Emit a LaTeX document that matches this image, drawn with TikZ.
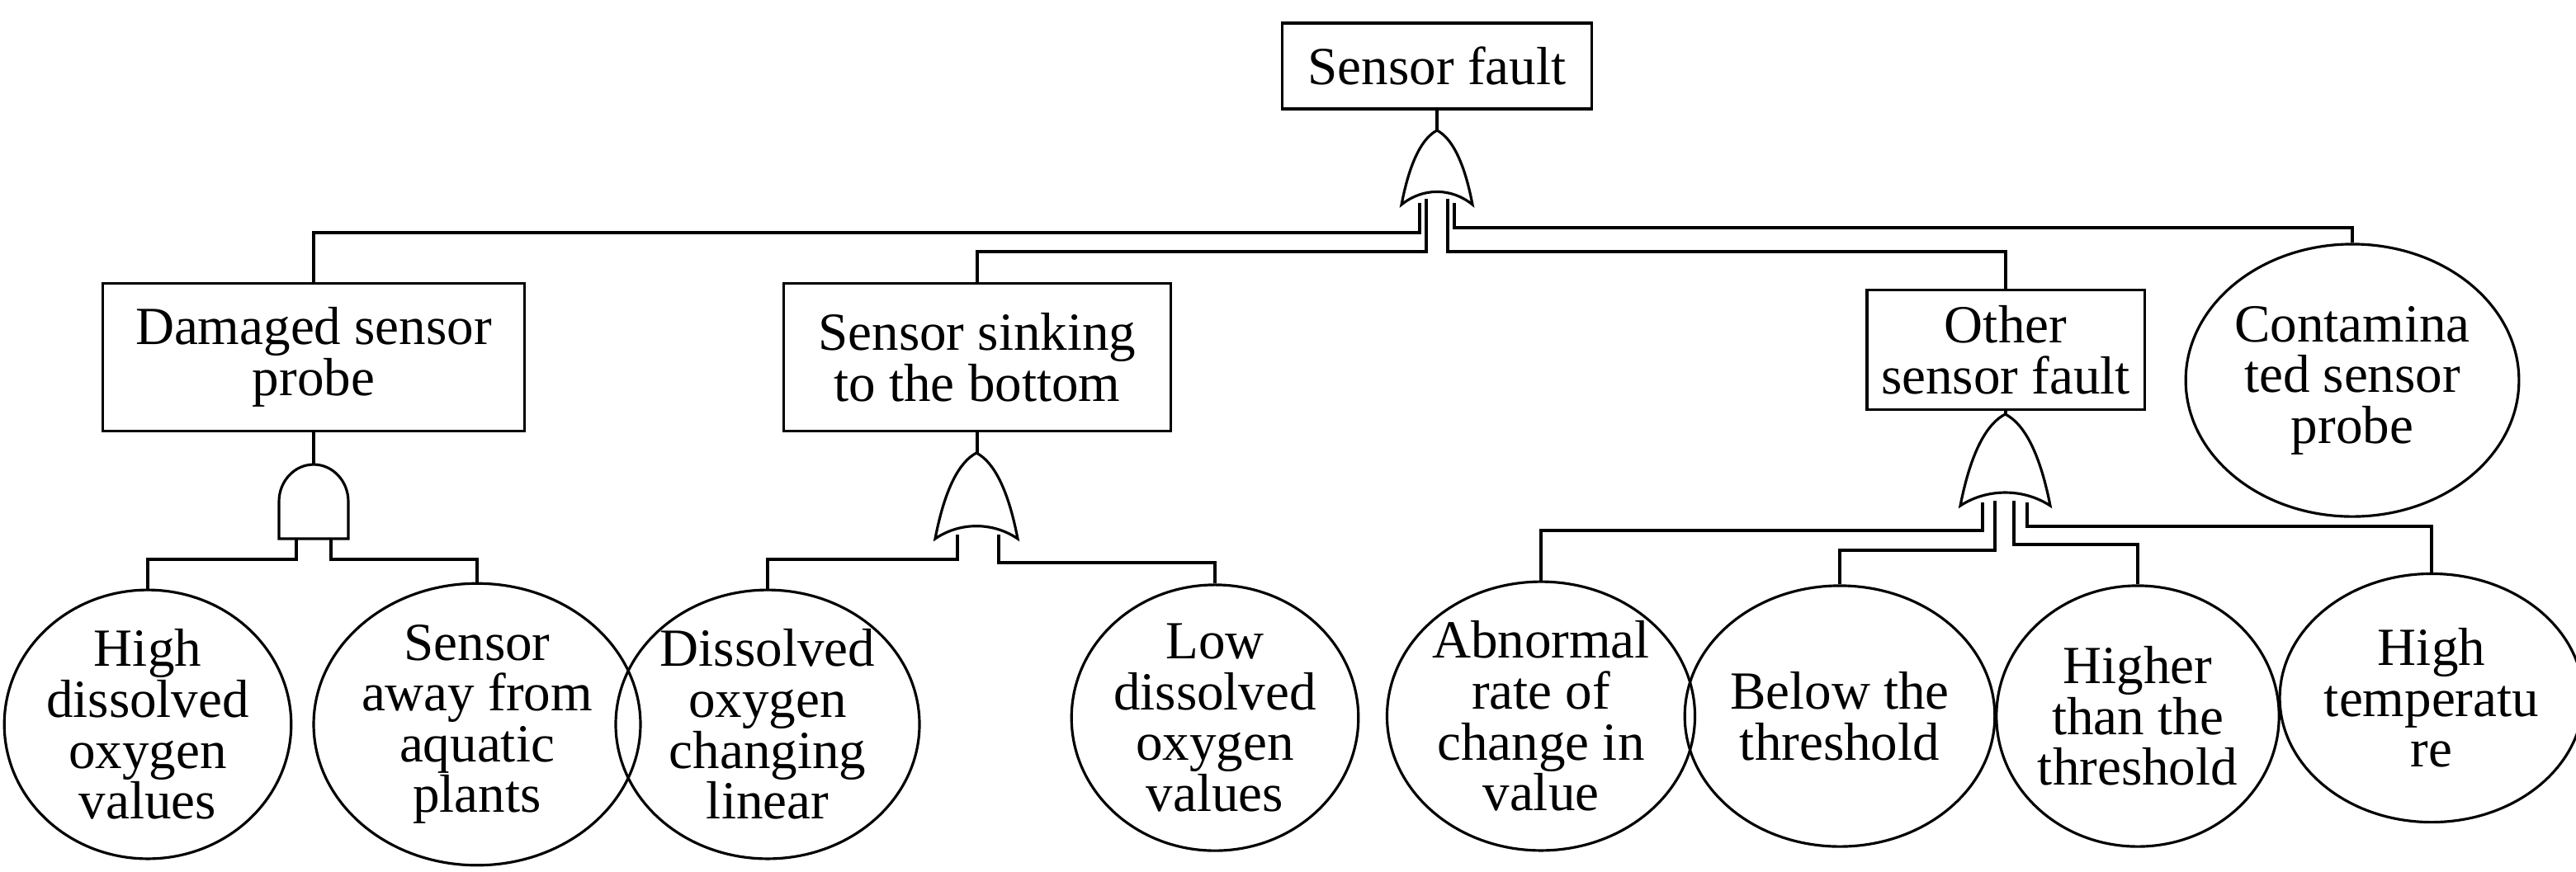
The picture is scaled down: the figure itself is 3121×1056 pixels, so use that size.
\documentclass[tikz,border=0pt]{standalone}
\usepackage{fontspec}
\setmainfont{Liberation Serif}
\usetikzlibrary{shapes.geometric}
\begin{document}
\begin{tikzpicture}[x=0.01cm,y=-0.01cm,
  every node/.style={font=\fontsize{18.5}{17.5}\selectfont, align=center, inner sep=0pt},
  box/.style={draw, line width=0.9pt, rectangle},
  ev/.style={draw, line width=0.9pt, ellipse, minimum width=3.06cm, minimum height=3.16cm},
  ln/.style={line width=0.9pt},
  gate/.style={draw, line width=0.9pt, fill=white}]
\useasboundingbox (0,0) rectangle (3121,1056);
% OR gate macro: L R apex bottom peak
\newcommand{\orgt}[5]{%
  \pgfmathsetmacro{\cx}{(#1+#2)/2}\pgfmathsetmacro{\w}{#2-#1}\pgfmathsetmacro{\h}{#4-#3}
  \draw[gate] (#1,#4) .. controls (#1+0.12*\w,#4-0.6*\h) and (\cx-0.2*\w,#3+0.1*\h) .. (\cx,#3)
   .. controls (\cx+0.2*\w,#3+0.1*\h) and (#2-0.12*\w,#4-0.6*\h) .. (#2,#4)
   .. controls (\cx+0.2*\w,#5-0.12*\h) and (\cx-0.2*\w,#5-0.12*\h) .. cycle;}
% nodes
\node[box, minimum width=3.75cm, minimum height=1.04cm] (top) at (1741,80) {Sensor fault};
\node[box, minimum width=5.10cm, minimum height=1.79cm] (dam) at (380,433) {Damaged sensor\\probe};
\node[box, minimum width=4.68cm, minimum height=1.79cm] (sink) at (1184,433) {Sensor sinking\\to the bottom};
\node[box, minimum width=3.36cm, minimum height=1.45cm] (oth) at (2430,424) {Other\\sensor fault};
\node[ev, minimum width=3.10cm, minimum height=3.30cm] (cont) at (2850,461) {Contamina\\ted sensor\\probe};
\node[ev] (c1) at (179,878) {High\\dissolved\\oxygen\\values};
\node[ev] (c2) at (578,878) {Sensor\\away from\\aquatic\\plants};
\node[ev] (c3) at (930,878) {Dissolved\\oxygen\\changing\\linear};
\node[ev] (c4) at (1472,870) {Low\\dissolved\\oxygen\\values};
\node[ev] (c5) at (1867,868) {Abnormal\\rate of\\change in\\value};
\node[ev] (c6) at (2229,868) {Below the\\threshold};
\node[ev] (c7) at (2590,868) {Higher\\than the\\threshold};
\node[ev, minimum width=2.94cm, minimum height=3.01cm] (c8) at (2946,846) {High\\temperatu\\re};
% gate outputs
\coordinate (g0) at (1741,158);
\coordinate (g1) at (380,563);
\coordinate (g2) at (1184,549);
\coordinate (g3) at (2430,502);
\draw[ln] (top) -- (g0);
\draw[ln] (dam) -- (g1);
\draw[ln] (sink) -- (g2);
\draw[ln] (oth) -- (g3);
% top gate inputs
\coordinate (a1) at (1720,246); \coordinate (a2) at (1728,241);
\coordinate (a3) at (1754,241); \coordinate (a4) at (1762,246);
\draw[ln] (a1) |- (380,282) -- (dam.north);
\draw[ln] (a2) |- (1184,305) -- (sink.north);
\draw[ln] (a3) |- (2430,305) -- (oth.north);
\draw[ln] (a4) |- (2850,276) -- (cont.north);
% AND gate inputs
\coordinate (b1) at (359,653); \coordinate (b2) at (401,653);
\draw[ln] (b1) |- (179,678) -- (c1.north);
\draw[ln] (b2) |- (578,678) -- (c2.north);
% sinking OR inputs
\coordinate (d1) at (1160,648); \coordinate (d2) at (1210,648);
\draw[ln] (d1) |- (930,678) -- (c3.north);
\draw[ln] (d2) |- (1472,682) -- (c4.north);
% other OR inputs
\coordinate (e1) at (2402,609); \coordinate (e2) at (2417,607);
\coordinate (e3) at (2440,607); \coordinate (e4) at (2456,609);
\draw[ln] (e1) |- (1867,643) -- (c5.north);
\draw[ln] (e2) |- (2229,667) -- (c6.north);
\draw[ln] (e3) |- (2590,660) -- (c7.north);
\draw[ln] (e4) |- (2946,638) -- (c8.north);
% gates
\orgt{1698}{1784}{158}{248}{238}
\orgt{1133}{1233}{549}{653}{645}
\orgt{2375}{2484}{502}{613}{605}
\draw[gate] (338,653) -- (338,608) .. controls (338,583) and (357,563) .. (380,563)
  .. controls (403,563) and (422,583) .. (422,608) -- (422,653) -- cycle;
\end{tikzpicture}
\end{document}
